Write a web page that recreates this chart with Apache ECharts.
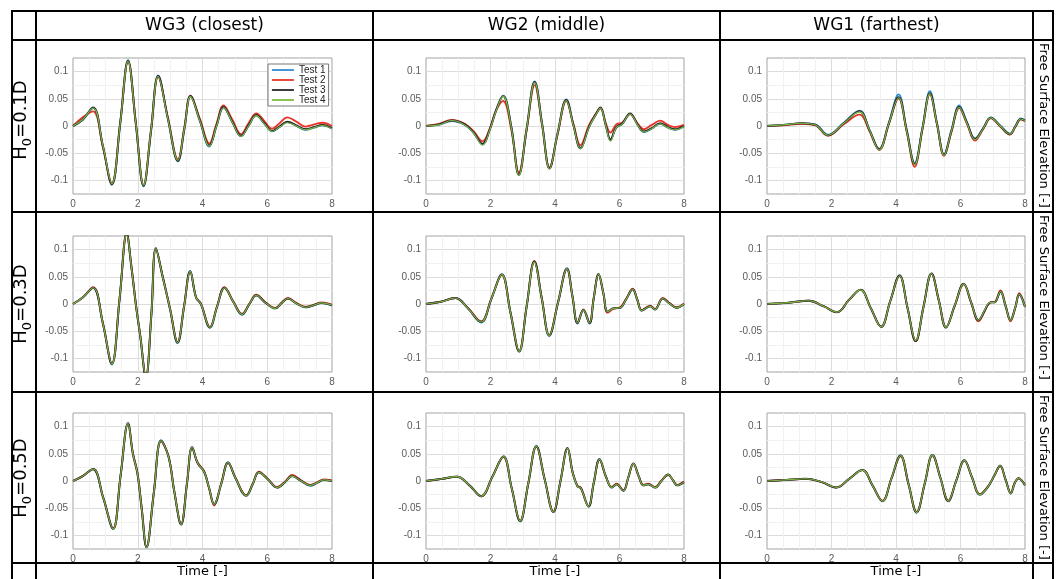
<!DOCTYPE html>
<html><head><meta charset="utf-8">
<script src="https://cdn.jsdelivr.net/npm/echarts@6/dist/echarts.min.js"></script>
<style>html,body{margin:0;padding:0;background:#fff}#c{width:1058px;height:579px}</style>
</head><body><div id="c"></div><script>
// ---------- labels ----------
const COL_TITLES = ['WG3 (closest)', 'WG2 (middle)', 'WG1 (farthest)'];
const ROW_TITLES = ['{a|H}{s|0}{a|=0.1D}', '{a|H}{s|0}{a|=0.3D}', '{a|H}{s|0}{a|=0.5D}'];
const TEST_NAMES = ['Test 1', 'Test 2', 'Test 3', 'Test 4'];
const X_TITLE = 'Time [-]';
const Y_TITLE = 'Free Surface Elevation [-]';

// ---------- Row 1 (H0=0.1D) ----------
const T_R1C1 = [0, 0.3, 0.62, 0.92, 1.2, 1.46, 1.7, 1.94, 2.18, 2.41, 2.63, 2.93, 3.24, 3.44, 3.63, 3.92, 4.21, 4.43, 4.65, 4.92, 5.19, 5.42, 5.66, 5.9, 6.15, 6.38, 6.62, 6.9, 7.18, 7.45, 7.7, 8.0];
const R1C1_T1 = [0, 0.011, 0.033, -0.036, -0.108, 0.005, 0.121, 0.004, -0.111, -0.009, 0.093, 0.013, -0.065, -0.006, 0.054, 0.009, -0.038, -0.001, 0.034, 0.007, -0.019, 0.000, 0.019, 0.005, -0.010, -0.002, 0.007, 0.000, -0.007, -0.003, 0.001, -0.005];
const R1C1_T2 = [0, 0.016, 0.027, -0.038, -0.105, 0.008, 0.118, 0.007, -0.108, -0.006, 0.090, 0.016, -0.061, -0.002, 0.056, 0.013, -0.032, 0.004, 0.038, 0.012, -0.015, 0.005, 0.023, 0.010, -0.005, 0.005, 0.016, 0.008, -0.001, 0.003, 0.006, 0.000];
const R1C1_T3 = [0, 0.012, 0.034, -0.036, -0.107, 0.006, 0.120, 0.005, -0.110, -0.009, 0.092, 0.014, -0.064, -0.005, 0.055, 0.010, -0.036, 0.000, 0.035, 0.008, -0.018, 0.001, 0.020, 0.006, -0.009, -0.001, 0.008, 0.001, -0.006, -0.002, 0.002, -0.004];
const R1C1_T4 = [0, 0.012, 0.033, -0.035, -0.106, 0.006, 0.119, 0.005, -0.109, -0.008, 0.091, 0.013, -0.063, -0.005, 0.054, 0.009, -0.037, -0.001, 0.034, 0.007, -0.019, 0.000, 0.019, 0.005, -0.010, -0.002, 0.006, 0.000, -0.007, -0.003, 0.001, -0.005];

const T_R1C2 = [0, 0.4, 0.8, 1.2, 1.48, 1.75, 1.98, 2.17, 2.39, 2.64, 2.88, 3.12, 3.37, 3.6, 3.83, 4.08, 4.35, 4.57, 4.79, 5.05, 5.25, 5.41, 5.57, 5.72, 5.9, 6.08, 6.33, 6.55, 6.75, 7.0, 7.26, 7.5, 7.72, 8.0];
const R1C2_T1 = [0, 0.002, 0.009, 0.002, -0.013, -0.034, -0.006, 0.029, 0.056, 0.000, -0.089, -0.005, 0.082, 0.004, -0.077, -0.013, 0.049, 0.002, -0.040, -0.002, 0.019, 0.033, 0.002, -0.026, -0.003, 0.003, 0.022, 0.003, -0.011, -0.005, 0.004, -0.003, -0.007, -0.001];
const R1C2_T2 = [0, 0.004, 0.011, 0.004, -0.010, -0.028, -0.004, 0.028, 0.046, -0.005, -0.085, -0.008, 0.075, 0.001, -0.076, -0.016, 0.046, 0.004, -0.035, 0.001, 0.021, 0.032, 0.006, -0.012, 0.003, 0.006, 0.022, 0.006, -0.006, 0.002, 0.010, 0.002, -0.002, 0.002];
const R1C2_T3 = [0, 0.003, 0.010, 0.003, -0.012, -0.033, -0.006, 0.028, 0.055, 0.000, -0.090, -0.006, 0.081, 0.004, -0.078, -0.014, 0.048, 0.002, -0.041, -0.002, 0.020, 0.034, 0.003, -0.025, -0.002, 0.004, 0.023, 0.004, -0.010, -0.004, 0.005, -0.002, -0.006, 0.000];
const R1C2_T4 = [0, 0.002, 0.010, 0.002, -0.013, -0.035, -0.007, 0.027, 0.055, -0.001, -0.091, -0.006, 0.080, 0.003, -0.079, -0.014, 0.047, 0.001, -0.042, -0.003, 0.019, 0.033, 0.002, -0.028, -0.003, 0.003, 0.022, 0.003, -0.011, -0.005, 0.004, -0.003, -0.007, -0.001];

const T_R1C3 = [0, 0.5, 1.1, 1.5, 1.89, 2.38, 2.87, 3.18, 3.48, 3.78, 4.08, 4.33, 4.58, 4.82, 5.05, 5.27, 5.49, 5.72, 5.96, 6.2, 6.45, 6.7, 6.94, 7.23, 7.53, 7.7, 7.87, 8.0];
const R1C3_T1 = [0, 0.002, 0.005, 0.003, -0.016, 0.006, 0.028, -0.007, -0.042, 0.007, 0.058, -0.006, -0.068, -0.003, 0.064, 0.006, -0.052, -0.007, 0.038, 0.007, -0.023, -0.004, 0.016, 0.001, -0.014, 0.000, 0.014, 0.011];
const R1C3_T2 = [0, 0.001, 0.004, 0.001, -0.018, 0.003, 0.021, -0.010, -0.044, 0.004, 0.051, -0.010, -0.075, -0.006, 0.058, 0.003, -0.055, -0.011, 0.033, 0.004, -0.027, -0.006, 0.014, -0.001, -0.016, -0.002, 0.012, 0.009];
const R1C3_T3 = [0, 0.002, 0.005, 0.002, -0.017, 0.005, 0.027, -0.008, -0.043, 0.005, 0.053, -0.008, -0.070, -0.005, 0.060, 0.004, -0.053, -0.009, 0.035, 0.006, -0.024, -0.005, 0.015, 0.000, -0.015, -0.001, 0.013, 0.010];
const R1C3_T4 = [0, 0.002, 0.005, 0.002, -0.017, 0.005, 0.026, -0.008, -0.044, 0.005, 0.052, -0.009, -0.071, -0.005, 0.059, 0.004, -0.054, -0.009, 0.034, 0.005, -0.025, -0.005, 0.015, 0.000, -0.015, -0.001, 0.013, 0.010];

// ---------- Row 2 (H0=0.3D) ----------
const T_R2C1 = [0, 0.3, 0.62, 0.92, 1.2, 1.44, 1.66, 1.8, 1.95, 2.08, 2.25, 2.42, 2.56, 2.77, 3.0, 3.23, 3.43, 3.62, 3.8, 3.95, 4.23, 4.45, 4.68, 4.95, 5.22, 5.45, 5.66, 5.95, 6.25, 6.45, 6.64, 6.9, 7.18, 7.45, 7.67, 8.0];
const R2C1_T1 = [0, 0.012, 0.030, -0.035, -0.111, 0.010, 0.131, 0.070, -0.005, -0.061, -0.135, -0.020, 0.103, 0.050, -0.010, -0.072, -0.005, 0.061, 0.012, 0.000, -0.044, -0.005, 0.030, 0.004, -0.020, 0.000, 0.016, 0.002, -0.008, 0.002, 0.010, 0.001, -0.006, -0.002, 0.002, -0.003];
const R2C1_T2 = [0, 0.012, 0.031, -0.034, -0.109, 0.011, 0.129, 0.071, -0.004, -0.059, -0.134, -0.019, 0.101, 0.051, -0.009, -0.070, -0.004, 0.059, 0.013, 0.001, -0.042, -0.004, 0.031, 0.005, -0.018, 0.001, 0.017, 0.003, -0.007, 0.003, 0.011, 0.002, -0.005, -0.001, 0.003, -0.001];
const R2C1_T3 = [0, 0.012, 0.030, -0.035, -0.110, 0.010, 0.130, 0.070, -0.005, -0.060, -0.135, -0.020, 0.102, 0.050, -0.010, -0.071, -0.005, 0.060, 0.012, 0.000, -0.043, -0.005, 0.030, 0.004, -0.019, 0.000, 0.016, 0.002, -0.008, 0.002, 0.010, 0.001, -0.006, -0.002, 0.002, -0.002];
const R2C1_T4 = [0, 0.012, 0.030, -0.035, -0.110, 0.010, 0.130, 0.070, -0.005, -0.060, -0.135, -0.020, 0.102, 0.050, -0.010, -0.071, -0.005, 0.060, 0.012, 0.000, -0.043, -0.005, 0.030, 0.004, -0.019, 0.000, 0.016, 0.002, -0.008, 0.002, 0.010, 0.001, -0.006, -0.002, 0.002, -0.002];

const T_R2C2 = [0, 0.45, 0.91, 1.3, 1.71, 2.03, 2.35, 2.62, 2.89, 3.12, 3.36, 3.59, 3.82, 4.1, 4.37, 4.54, 4.7, 4.88, 5.07, 5.2, 5.35, 5.5, 5.63, 5.81, 6.02, 6.2, 6.41, 6.55, 6.69, 6.95, 7.1, 7.34, 7.55, 7.77, 8.0];
const R2C2_T1 = [0, 0.004, 0.011, -0.008, -0.034, 0.010, 0.055, -0.016, -0.088, -0.005, 0.078, 0.010, -0.059, 0.004, 0.066, 0.015, -0.036, -0.011, -0.036, 0.010, 0.055, 0.020, -0.014, -0.008, -0.007, 0.008, 0.027, 0.008, -0.012, -0.004, -0.010, 0.010, 0.001, -0.007, 0.000];
const R2C2_T2 = [0, 0.004, 0.011, -0.007, -0.032, 0.011, 0.053, -0.015, -0.086, -0.004, 0.079, 0.011, -0.057, 0.005, 0.064, 0.014, -0.034, -0.010, -0.034, 0.011, 0.054, 0.019, -0.016, -0.009, -0.006, 0.009, 0.028, 0.009, -0.011, -0.003, -0.009, 0.011, 0.002, -0.006, 0.001];
const R2C2_T3 = [0, 0.004, 0.011, -0.008, -0.033, 0.010, 0.054, -0.016, -0.087, -0.005, 0.078, 0.010, -0.058, 0.004, 0.065, 0.015, -0.035, -0.011, -0.035, 0.010, 0.055, 0.020, -0.014, -0.008, -0.007, 0.008, 0.027, 0.008, -0.012, -0.004, -0.010, 0.010, 0.001, -0.007, 0.000];
const R2C2_T4 = [0, 0.004, 0.011, -0.008, -0.033, 0.010, 0.054, -0.016, -0.087, -0.005, 0.077, 0.010, -0.058, 0.004, 0.065, 0.015, -0.035, -0.011, -0.035, 0.010, 0.055, 0.020, -0.014, -0.008, -0.007, 0.008, 0.027, 0.008, -0.012, -0.004, -0.010, 0.010, 0.001, -0.007, 0.000];

const T_R2C3 = [0, 0.6, 1.3, 1.75, 2.17, 2.55, 2.9, 3.22, 3.54, 3.82, 4.11, 4.36, 4.61, 4.85, 5.1, 5.33, 5.55, 5.82, 6.1, 6.33, 6.56, 6.75, 6.85, 6.95, 7.05, 7.24, 7.4, 7.55, 7.7, 7.82, 8.0];
const R2C3_T1 = [0, 0.002, 0.006, -0.004, -0.015, 0.008, 0.026, -0.008, -0.042, 0.005, 0.053, -0.008, -0.068, -0.006, 0.056, 0.006, -0.043, -0.003, 0.037, 0.003, -0.030, -0.012, -0.001, 0.003, 0.003, 0.022, -0.005, -0.029, -0.006, 0.017, -0.006];
const R2C3_T2 = [0, 0.002, 0.006, -0.004, -0.015, 0.008, 0.026, -0.008, -0.042, 0.005, 0.052, -0.008, -0.068, -0.006, 0.056, 0.006, -0.043, -0.004, 0.036, 0.002, -0.032, -0.013, -0.001, 0.004, 0.004, 0.025, -0.003, -0.032, -0.007, 0.020, -0.004];
const R2C3_T3 = [0, 0.002, 0.006, -0.004, -0.015, 0.008, 0.026, -0.008, -0.042, 0.005, 0.052, -0.008, -0.068, -0.006, 0.056, 0.006, -0.043, -0.003, 0.037, 0.003, -0.030, -0.012, -0.001, 0.003, 0.003, 0.023, -0.004, -0.030, -0.006, 0.018, -0.005];
const R2C3_T4 = [0, 0.002, 0.006, -0.004, -0.015, 0.008, 0.026, -0.008, -0.042, 0.005, 0.052, -0.008, -0.067, -0.006, 0.056, 0.006, -0.043, -0.003, 0.037, 0.003, -0.030, -0.011, 0.000, 0.003, 0.003, 0.023, -0.004, -0.030, -0.006, 0.018, -0.005];

// ---------- Row 3 (H0=0.5D) ----------
const T_R3C1 = [0, 0.3, 0.62, 0.93, 1.24, 1.47, 1.7, 1.85, 1.99, 2.12, 2.27, 2.5, 2.72, 2.95, 3.13, 3.34, 3.52, 3.68, 3.85, 4.05, 4.2, 4.36, 4.58, 4.79, 5.02, 5.35, 5.55, 5.74, 6.02, 6.31, 6.55, 6.77, 7.05, 7.33, 7.55, 7.74, 8.0];
const R3C1_T1 = [0, 0.009, 0.022, -0.030, -0.088, 0.010, 0.106, 0.050, 0.014, -0.050, -0.122, -0.020, 0.075, 0.045, -0.020, -0.080, -0.005, 0.062, 0.033, 0.017, -0.012, -0.042, -0.005, 0.034, 0.005, -0.027, -0.006, 0.016, 0.003, -0.012, -0.002, 0.009, 0.000, -0.009, -0.003, 0.002, 0.000];
const R3C1_T2 = [0, 0.009, 0.022, -0.030, -0.087, 0.011, 0.105, 0.051, 0.016, -0.049, -0.121, -0.019, 0.073, 0.045, -0.019, -0.079, -0.004, 0.061, 0.034, 0.018, -0.013, -0.045, -0.004, 0.033, 0.006, -0.026, -0.005, 0.017, 0.004, -0.011, -0.001, 0.011, 0.001, -0.007, -0.002, 0.003, 0.001];
const R3C1_T3 = [0, 0.009, 0.022, -0.030, -0.088, 0.010, 0.106, 0.050, 0.014, -0.050, -0.122, -0.020, 0.074, 0.045, -0.020, -0.080, -0.005, 0.062, 0.033, 0.017, -0.012, -0.043, -0.005, 0.034, 0.005, -0.027, -0.006, 0.016, 0.003, -0.012, -0.002, 0.009, 0.000, -0.008, -0.003, 0.002, 0.000];
const R3C1_T4 = [0, 0.009, 0.022, -0.030, -0.088, 0.010, 0.106, 0.050, 0.014, -0.050, -0.122, -0.020, 0.074, 0.045, -0.020, -0.080, -0.005, 0.062, 0.033, 0.017, -0.012, -0.043, -0.005, 0.034, 0.005, -0.027, -0.006, 0.016, 0.003, -0.012, -0.002, 0.009, 0.000, -0.008, -0.003, 0.002, 0.000];

const T_R3C2 = [0, 0.5, 0.96, 1.35, 1.71, 2.06, 2.4, 2.66, 2.92, 3.17, 3.42, 3.68, 3.95, 4.17, 4.39, 4.55, 4.7, 4.8, 5.04, 5.2, 5.38, 5.58, 5.76, 5.91, 6.12, 6.27, 6.43, 6.6, 6.74, 6.89, 7.1, 7.3, 7.51, 7.65, 7.79, 8.0];
const R3C2_T1 = [0, 0.004, 0.008, -0.008, -0.028, 0.008, 0.045, -0.014, -0.074, -0.005, 0.064, 0.003, -0.057, 0.000, 0.061, 0.015, -0.010, -0.013, -0.047, -0.004, 0.040, 0.008, -0.012, -0.006, -0.018, 0.006, 0.032, 0.008, -0.008, -0.006, -0.012, 0.000, 0.012, 0.002, -0.008, -0.002];
const R3C2_T2 = [0, 0.004, 0.008, -0.008, -0.028, 0.008, 0.044, -0.014, -0.073, -0.005, 0.063, 0.003, -0.056, 0.000, 0.060, 0.015, -0.009, -0.012, -0.046, -0.004, 0.039, 0.008, -0.011, -0.005, -0.017, 0.006, 0.031, 0.008, -0.007, -0.005, -0.011, 0.001, 0.011, 0.002, -0.007, -0.001];
const R3C2_T3 = [0, 0.004, 0.008, -0.008, -0.028, 0.008, 0.045, -0.014, -0.074, -0.005, 0.064, 0.003, -0.057, 0.000, 0.060, 0.015, -0.010, -0.013, -0.047, -0.004, 0.040, 0.008, -0.012, -0.006, -0.018, 0.006, 0.032, 0.008, -0.008, -0.006, -0.012, 0.000, 0.012, 0.002, -0.008, -0.002];
const R3C2_T4 = [0, 0.004, 0.008, -0.008, -0.028, 0.008, 0.045, -0.014, -0.074, -0.005, 0.064, 0.003, -0.057, 0.000, 0.060, 0.015, -0.010, -0.013, -0.047, -0.004, 0.040, 0.008, -0.012, -0.006, -0.018, 0.006, 0.032, 0.008, -0.008, -0.006, -0.012, 0.000, 0.012, 0.002, -0.008, -0.002];

const T_R3C3 = [0, 0.6, 1.2, 1.7, 2.15, 2.55, 2.96, 3.27, 3.58, 3.86, 4.14, 4.39, 4.64, 4.89, 5.13, 5.38, 5.62, 5.87, 6.12, 6.36, 6.6, 6.86, 7.05, 7.23, 7.4, 7.56, 7.68, 7.8, 8.0];
const R3C3_T1 = [0, 0.002, 0.004, -0.002, -0.012, 0.004, 0.020, -0.008, -0.037, 0.005, 0.047, -0.006, -0.058, -0.005, 0.048, 0.005, -0.037, 0.001, 0.038, 0.006, -0.025, -0.010, 0.010, 0.028, 0.002, -0.023, -0.004, 0.005, -0.008];
const R3C3_T2 = [0, 0.002, 0.004, -0.002, -0.012, 0.004, 0.020, -0.008, -0.036, 0.005, 0.046, -0.006, -0.057, -0.005, 0.047, 0.005, -0.036, 0.001, 0.037, 0.006, -0.024, -0.009, 0.010, 0.027, 0.002, -0.022, -0.003, 0.005, -0.007];
const R3C3_T3 = [0, 0.002, 0.004, -0.002, -0.012, 0.004, 0.020, -0.008, -0.037, 0.005, 0.047, -0.006, -0.058, -0.005, 0.048, 0.005, -0.037, 0.001, 0.038, 0.006, -0.025, -0.010, 0.010, 0.028, 0.002, -0.023, -0.004, 0.005, -0.008];
const R3C3_T4 = [0, 0.002, 0.004, -0.002, -0.012, 0.004, 0.020, -0.008, -0.037, 0.005, 0.047, -0.006, -0.058, -0.005, 0.048, 0.005, -0.037, 0.001, 0.038, 0.006, -0.025, -0.010, 0.010, 0.028, 0.002, -0.023, -0.004, 0.005, -0.008];

// ---------- assemble ----------
const PANELS = [
  [T_R1C1, [R1C1_T1, R1C1_T2, R1C1_T3, R1C1_T4]],
  [T_R1C2, [R1C2_T1, R1C2_T2, R1C2_T3, R1C2_T4]],
  [T_R1C3, [R1C3_T1, R1C3_T2, R1C3_T3, R1C3_T4]],
  [T_R2C1, [R2C1_T1, R2C1_T2, R2C1_T3, R2C1_T4]],
  [T_R2C2, [R2C2_T1, R2C2_T2, R2C2_T3, R2C2_T4]],
  [T_R2C3, [R2C3_T1, R2C3_T2, R2C3_T3, R2C3_T4]],
  [T_R3C1, [R3C1_T1, R3C1_T2, R3C1_T3, R3C1_T4]],
  [T_R3C2, [R3C2_T1, R3C2_T2, R3C2_T3, R3C2_T4]],
  [T_R3C3, [R3C3_T1, R3C3_T2, R3C3_T3, R3C3_T4]]
];
const COLORS = ['#2f8bd0', '#e8352a', '#262626', '#7fba45'];
const WIDTHS = [1.8, 1.8, 2.0, 1.1];

const GRID_LEFT = [73, 426, 767];
const GRID_WIDTH = [259, 258, 258];
const GRID_TOP = [58, 236, 413];
const GRID_H = 136;

const grids = [], xAxes = [], yAxes = [], series = [];
const lblFont = 'Liberation Sans';
PANELS.forEach((p, i) => {
  const r = Math.floor(i / 3), c = i % 3;
  grids.push({left: GRID_LEFT[c], top: GRID_TOP[r], width: GRID_WIDTH[c], height: GRID_H,
    show: true, borderColor: '#a3a3a3', borderWidth: 1, backgroundColor: '#fff'});
  xAxes.push({type: 'value', gridIndex: i, min: 0, max: 8, interval: 2,
    axisLine: {show: false}, axisTick: {show: false},
    axisLabel: {fontSize: 10, color: '#5a5a5a', margin: 5, fontFamily: lblFont},
    splitLine: {showMinLine: false, showMaxLine: false, lineStyle: {color: '#dcdcdc', width: 1}},
    minorTick: {show: false, splitNumber: 4},
    minorSplitLine: {show: true, lineStyle: {color: '#f1f1f1', width: 1}}});
  yAxes.push({type: 'value', gridIndex: i, min: -0.125, max: 0.125, interval: 0.025,
    axisLine: {show: false}, axisTick: {show: false},
    axisLabel: {fontSize: 10, color: '#5a5a5a', margin: 5, fontFamily: lblFont,
      formatter: v => { const k = Math.round(v * 1000); return (k % 50 === 0 && Math.abs(k) <= 100) ? String(Math.round(v * 100) / 100) : ''; }},
    splitLine: {showMinLine: false, showMaxLine: false, lineStyle: {color: ['#dcdcdc', '#f1f1f1'], width: 1}}});
  const t = p[0];
  p[1].forEach((vals, k) => {
    series.push({type: 'line', name: TEST_NAMES[k], xAxisIndex: i, yAxisIndex: i,
      data: t.map((x, j) => [x, vals[j]]), smooth: 0.4, symbol: 'none', showSymbol: false, clip: true,
      lineStyle: {color: COLORS[k], width: WIDTHS[k]}, itemStyle: {color: COLORS[k]}, z: 2 + k});
  });
});

// ---------- table frame & texts ----------
const HX = [12, 36, 373, 720, 1033, 1053];
const HY = [11, 40, 212, 392, 563];
const ROW_MID = [120, 304, 478];
const ROW_TOP = [40, 212, 392];
const COL_MID = [204.5, 546.5, 876.5];
const PLOT_MID = [202.5, 555, 896];
const graphic = [];
HX.forEach(x => graphic.push({type: 'line', shape: {x1: x, y1: 10, x2: x, y2: 579}, style: {stroke: '#000', lineWidth: 2}, z: 50}));
HY.forEach(y => graphic.push({type: 'line', shape: {x1: 11, y1: y, x2: 1054, y2: y}, style: {stroke: '#000', lineWidth: 2}, z: 50}));
COL_TITLES.forEach((s, c) => graphic.push({type: 'text', x: COL_MID[c], y: 26, z: 50,
  style: {text: s, fontSize: 17, fontFamily: 'DejaVu Sans', fill: '#000', align: 'center', verticalAlign: 'middle'}}));
ROW_TITLES.forEach((s, r) => graphic.push({type: 'text', x: 22, y: ROW_MID[r], rotation: Math.PI / 2, z: 50,
  style: {text: s, fill: '#000', align: 'center', verticalAlign: 'middle',
    rich: {a: {fontSize: 18, fontFamily: 'DejaVu Sans', fill: '#000', lineHeight: 20, verticalAlign: 'top'},
           s: {fontSize: 13, fontFamily: 'DejaVu Sans', fill: '#000', lineHeight: 14, padding: [9, 0, 0, 0], verticalAlign: 'top'}}}}));
ROW_TOP.forEach(y0 => graphic.push({type: 'text', x: 1043, y: y0 + 3, rotation: -Math.PI / 2, z: 50,
  style: {text: Y_TITLE, fontSize: 13, fontFamily: 'DejaVu Sans', fill: '#000', align: 'left', verticalAlign: 'middle'}}));
PLOT_MID.forEach(x => graphic.push({type: 'text', x: x, y: 572, z: 50,
  style: {text: X_TITLE, fontSize: 13, fontFamily: 'DejaVu Sans', fill: '#000', align: 'center', verticalAlign: 'middle'}}));

const chart = echarts.init(document.getElementById('c'));
chart.setOption({
  animation: false,
  backgroundColor: '#fff',
  grid: grids, xAxis: xAxes, yAxis: yAxes, series: series,
  legend: {data: TEST_NAMES, orient: 'vertical', left: 268, top: 64, itemWidth: 22, itemHeight: 10.5, itemGap: 0,
    padding: [1, 3, 1, 3], borderColor: '#777', borderWidth: 1, backgroundColor: '#fff', z: 20,
    itemStyle: {opacity: 0}, lineStyle: {width: 1.8},
    textStyle: {fontSize: 10, fontFamily: lblFont, color: '#222'}},
  graphic: graphic
});
</script></body></html>
